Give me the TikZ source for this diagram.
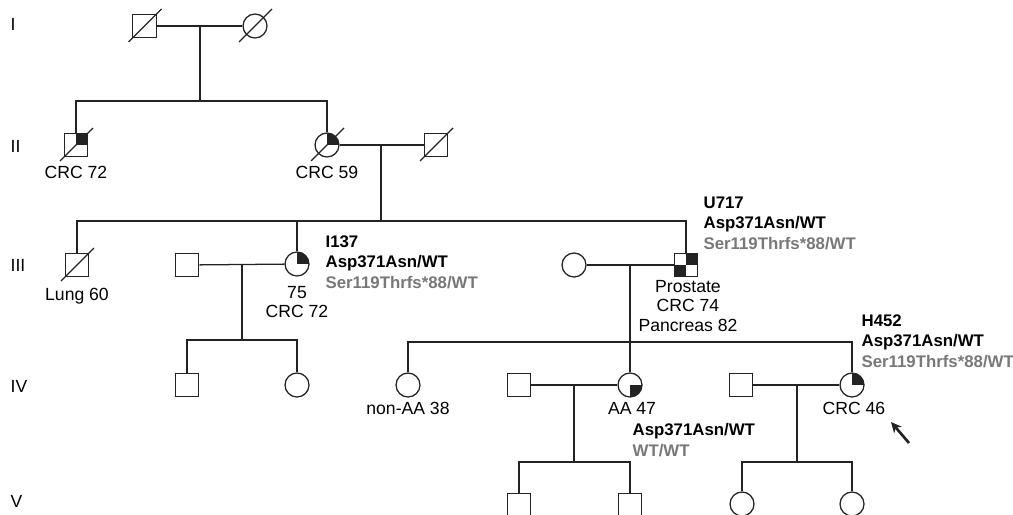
\documentclass[tikz,border=0pt]{standalone}
\usepackage{fontspec}
\setmainfont{Liberation Sans}
\usepackage{xcolor}
\usetikzlibrary{arrows.meta,calc}
\definecolor{pgray}{RGB}{120,120,120}
\definecolor{pline}{RGB}{35,35,35}
\newcommand{\deceased}[1]{\draw ($(#1.center)+(-16,16)$) -- ($(#1.center)+(17,-17)$);}

\tikzset{
  male/.style={draw=pline,rectangle,minimum size=17.6pt,inner sep=0pt},
  female/.style={draw=pline,circle,minimum size=18pt,inner sep=0pt},
  affNE/.style={path picture={\fill[pline] (path picture bounding box.center) rectangle (path picture bounding box.north east);}},
  affSE/.style={path picture={\fill[pline] (path picture bounding box.center) rectangle (path picture bounding box.south east);}},
  affNESW/.style={path picture={\fill[pline] (path picture bounding box.center) rectangle (path picture bounding box.north east);
                                \fill[pline] (path picture bounding box.center) rectangle (path picture bounding box.south west);}},
  lbl/.style={inner sep=0pt,font=\fontsize{13.2}{14.6}\selectfont},
  info/.style={inner sep=0pt,align=left,font=\fontsize{12.6}{15.4}\selectfont\bfseries}
}

\begin{document}
\begin{tikzpicture}[x=0.75pt,y=-0.75pt,line width=0.95pt,draw=pline]
  \useasboundingbox (0,0) rectangle (1013,514);
  \clip (0,0) rectangle (1013,514);
  \foreach \g/\y in {I/24,II/146,III/265,IV/386,V/501}
    \node[lbl,anchor=west] (gen\g) at (10,\y) {\g};

  % generation I
  \node[male] (m1) at (144.5,26) {};
  \node[female] (f1) at (255,26) {};
  \deceased{m1} \deceased{f1}
  \coordinate (j1) at (200,26);
  \coordinate (s1) at (200,101);

  % generation II
  \node[male,affNE] (ii1) at (76,145) {};
  \node[female,affNE] (ii2) at (327,145) {};
  \node[male] (ii3) at (436,145) {};
  \deceased{ii1} \deceased{ii2} \deceased{ii3}
  \node[lbl,anchor=north] (ii1lbl) at (76,165.5) {CRC 72};
  \node[lbl,anchor=north] (ii2lbl) at (327,165.5) {CRC 59};
  \coordinate (j2) at (381,145);
  \coordinate (s2) at (381,221);

  % generation III
  \node[male] (iii1) at (77,265) {};
  \deceased{iii1}
  \node[male] (iii2) at (187,265) {};
  \node[female,affNE] (i137) at (297,264) {};
  \node[female] (iii4) at (574,265) {};
  \node[male,affNESW] (u717) at (686,265) {};
  \node[lbl,anchor=north] (iii1lbl) at (77,287.5) {Lung 60};
  \node[lbl,anchor=north,align=center] (i137lbl) at (297,285.5) {75\\CRC 72};
  \node[lbl,anchor=north,align=center] (u717lbl) at (688,279.5) {Prostate\\CRC 74\\Pancreas 82};
  \node[info,anchor=north west] (i137info) at (325,235) {I137\\Asp371Asn/WT\\\textcolor{pgray}{Ser119Thrfs*88/WT}};
  \node[info,anchor=north west] (u717info) at (703,196) {U717\\Asp371Asn/WT\\\textcolor{pgray}{Ser119Thrfs*88/WT}};
  \coordinate (j3) at (242,265);
  \coordinate (s3) at (242,340);
  \coordinate (j4) at (630,265);
  \coordinate (s4) at (630,342);

  % generation IV
  \node[male] (iv1) at (187,385) {};
  \node[female] (iv2) at (297,385) {};
  \node[female] (nonaa) at (408,385) {};
  \node[male] (iv4) at (519,385) {};
  \node[female,affSE] (aa) at (630,385) {};
  \node[male] (iv6) at (741,385) {};
  \node[female,affNE] (h452) at (852,385) {};
  \node[lbl,anchor=north] (nonaalbl) at (408,401.5) {non-AA 38};
  \node[lbl,anchor=north] (aalbl) at (632,401.5) {AA 47};
  \node[lbl,anchor=north] (h452lbl) at (854,401.5) {CRC 46};
  \node[info,anchor=north west] (aainfo) at (632,423) {Asp371Asn/WT\\\textcolor{pgray}{WT/WT}};
  \node[info,anchor=north west] (h452info) at (861,314) {H452\\Asp371Asn/WT\\\textcolor{pgray}{Ser119Thrfs*88/WT}};
  \coordinate (j5) at (574,385);
  \coordinate (s5) at (574,462);
  \coordinate (j6) at (797,385);
  \coordinate (s6) at (797,462);

  % generation V
  \node[male] (v1) at (519,505) {};
  \node[male] (v2) at (630,505) {};
  \node[female] (v3) at (742,504) {};
  \node[female] (v4) at (852,504) {};

  % lines of descent
  \draw (m1) -- (f1);
  \draw (j1) -- (s1);
  \draw (ii1.north) |- (s1) -| (ii2.north);
  \draw (ii2) -- (ii3);
  \draw (j2) -- (s2);
  \draw (iii1.north) |- (s2) -| (u717.north);
  \draw (i137.north) -- (i137.north |- s2);
  \draw (iii2) -- (i137);
  \draw (j3) -- (s3);
  \draw (iv1.north) |- (s3) -| (iv2.north);
  \draw (iii4) -- (u717);
  \draw (j4) -- (aa);
  \draw (nonaa.north) |- (s4) -| (h452.north);
  \draw (iv4) -- (aa);
  \draw (j5) -- (s5);
  \draw (v1.north) |- (s5) -| (v2.north);
  \draw (iv6) -- (h452);
  \draw (j6) -- (s6);
  \draw (v3.north) |- (s6) -| (v4.north);

  % proband
  \coordinate (ptail) at (909,443);
  \coordinate (phead) at (891,422);
  \draw[line width=2pt,-{Stealth[length=8pt,width=7.5pt]}] (ptail) -- (phead);
\end{tikzpicture}
\end{document}
